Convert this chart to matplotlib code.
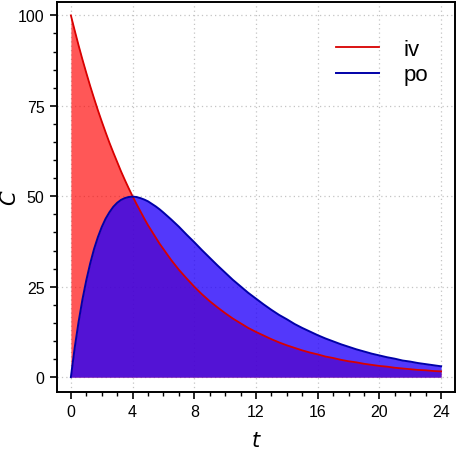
import matplotlib
matplotlib.use("Agg")
import matplotlib.pyplot as plt
from matplotlib.ticker import MultipleLocator

plt.rcParams["font.family"] = ["Liberation Sans", "DejaVu Sans"]

# time points (h): quarter hours up to 6 h, half hours after that
t = [0, 0.25, 0.5, 0.75, 1, 1.25, 1.5, 1.75, 2, 2.25, 2.5, 2.75, 3, 3.25,
     3.5, 3.75, 4, 4.25, 4.5, 4.75, 5, 5.25, 5.5, 5.75, 6,
     6.5, 7, 7.5, 8, 8.5, 9, 9.5, 10, 10.5, 11, 11.5, 12, 12.5, 13, 13.5,
     14, 14.5, 15, 15.5, 16, 16.5, 17, 17.5, 18, 18.5, 19, 19.5, 20, 20.5,
     21, 21.5, 22, 22.5, 23, 23.5, 24]

# concentration
iv = [100.0, 95.8, 91.7, 87.8, 84.1, 80.5, 77.1, 73.8, 70.7, 67.7, 64.8, 62.1,
      59.5, 56.9, 54.5, 52.2, 50.0, 47.9, 45.9, 43.9, 42.0, 40.3, 38.6, 36.9,
      35.4, 32.4, 29.7, 27.3, 25.0, 22.9, 21.0, 19.3, 17.7, 16.2, 14.9, 13.6,
      12.5, 11.5, 10.5, 9.6, 8.8, 8.1, 7.4, 6.8, 6.3, 5.7, 5.3, 4.8,
      4.4, 4.1, 3.7, 3.4, 3.1, 2.9, 2.6, 2.4, 2.2, 2.0, 1.9, 1.7, 1.6]
po = [0.0, 8.2, 15.3, 21.5, 26.8, 31.4, 35.4, 38.7, 41.5, 43.8, 45.6, 47.1,
      48.2, 49.0, 49.5, 49.8, 49.9, 49.8, 49.5, 49.1, 48.6, 47.9, 47.2, 46.4,
      45.5, 43.6, 41.6, 39.4, 37.3, 35.1, 33.0, 30.9, 28.9, 26.9, 25.1, 23.3,
      21.7, 20.1, 18.6, 17.2, 16.0, 14.7, 13.6, 12.6, 11.6, 10.7, 9.9, 9.1,
      8.4, 7.7, 7.1, 6.5, 6.0, 5.5, 5.1, 4.6, 4.3, 3.9, 3.6, 3.3, 3.0]

labels = ["iv", "po"]

fig = plt.figure(figsize=(4.74, 4.52), dpi=100)
ax = fig.add_axes([57 / 474, 1 - 393 / 452, 398 / 474, 390 / 452])

ax.fill_between(t, iv, 0, color="#ff0000", alpha=0.66, linewidth=0)
ax.plot(t, iv, color="#d80000", linewidth=1.3, label=labels[0])
ax.fill_between(t, po, 0, color="#2300fa", alpha=0.78, linewidth=0)
ax.plot(t, po, color="#0000a8", linewidth=1.4, label=labels[1])

ax.set_xlim(-0.9, 24.9)
ax.set_ylim(-4.1, 103.7)
ax.xaxis.set_major_locator(MultipleLocator(4))
ax.xaxis.set_minor_locator(MultipleLocator(1))
ax.yaxis.set_major_locator(MultipleLocator(25))
ax.yaxis.set_minor_locator(MultipleLocator(5))
ax.tick_params(which="major", direction="out", length=5, width=1.2, labelsize=11.5, pad=4)
ax.tick_params(which="minor", direction="out", length=3, width=1)
ax.grid(True, which="major", linestyle=(0, (1, 2.5)), color="#c4c4c4", linewidth=0.9)
ax.set_axisbelow(True)
for s in ax.spines.values():
    s.set_linewidth(1.4)

ax.set_xlabel("$t$", fontsize=15, labelpad=8)
ax.set_ylabel("$C$", fontsize=15)
ax.yaxis.set_label_coords(-0.094, 0.5)

ax.legend(loc="upper left", bbox_to_anchor=(0.7, 0.905), frameon=False,
          fontsize=16, handlelength=1.95, handletextpad=1.1, labelspacing=0.2,
          borderpad=0, borderaxespad=0)

fig.savefig("out.png", dpi=100)
